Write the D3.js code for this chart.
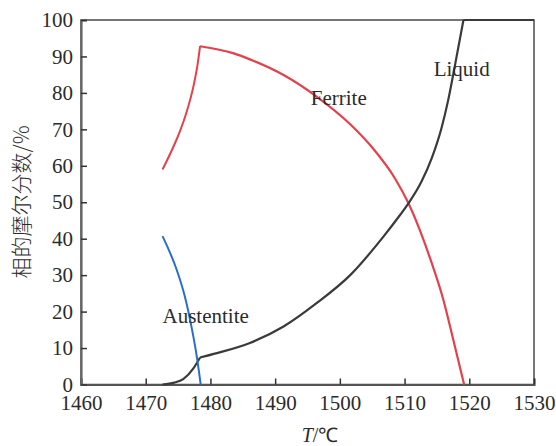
<!DOCTYPE html>
<html>
<head>
<meta charset="utf-8">
<script src="https://cdn.jsdelivr.net/npm/d3@7"></script>
<style>
  html, body { margin: 0; padding: 0; background: #fff; }
  svg text { fill: #2b2b2b; }
</style>
</head>
<body>
<svg id="chart" width="556" height="446"></svg>
<script>
// Phase fractions (mol %) versus temperature (°C)
const ferriteRise = [[1472.6,59.0],[1474.3,65.3],[1475.3,69.5],[1476.3,74.6],[1477.4,82.0],[1478.0,87.6],[1478.4,92.8]];
const ferriteFall = [[1478.4,92.8],[1483.5,90.9],[1486.1,89.2],[1491.3,84.9],[1496.4,79.0],[1501.6,71.4],[1505.2,64.6],[1508.5,56.6],[1510.6,49.7],[1512.9,39.8],[1514.0,34.3],[1516.0,23.2],[1517.5,12.5],[1519.2,0]];
const liquidLow = [[1472.6,0],[1474.4,0.5],[1475.8,1.5],[1477.4,4.5],[1478.4,7.4]];
const liquidHigh = [[1478.4,7.4],[1481.0,8.6],[1486.1,11.4],[1491.3,15.9],[1496.4,22.3],[1501.6,30.0],[1506.7,40.5],[1509.3,46.5],[1510.6,49.7],[1512.6,55.6],[1514.2,62.1],[1515.7,70.3],[1516.8,78.5],[1517.8,87.7],[1519.1,100]];
const liquidTop = [[1519.1,100],[1530,100]];
const austenite = [[1472.6,40.7],[1474.8,31.4],[1476.0,24.5],[1477.0,16.5],[1477.9,7.6],[1478.5,0]];

const xTicks = [1460,1470,1480,1490,1500,1510,1520,1530];
const yTicks = [0,10,20,30,40,50,60,70,80,90,100];

const phaseLabels = [
  {text: "Ferrite", T: 1495.5, v: 76.8},
  {text: "Liquid", T: 1514.5, v: 84.6},
  {text: "Austentite", T: 1472.6, v: 16.8}
];

const serif = "'Liberation Serif', 'Times New Roman', serif";
const margin = {left: 81, right: 22, top: 20, bottom: 61.5};
const W = 556, H = 446;
const svg = d3.select("#chart");

const x = d3.scaleLinear().domain([1460, 1530]).range([margin.left, W - margin.right]);
const y = d3.scaleLinear().domain([0, 100]).range([H - margin.bottom, margin.top]);

const colors = {ferrite: "#e5404b", liquid: "#3a3a3a", austenite: "#2a6fc4"};

// frame
svg.append("rect")
  .attr("x", x(1460)).attr("y", y(100))
  .attr("width", x(1530) - x(1460)).attr("height", y(0) - y(100))
  .attr("fill", "none").attr("stroke", "#4a4a4a").attr("stroke-width", 1.5);

// bottom axis with inward ticks
const xAxis = svg.append("g")
  .attr("transform", `translate(0,${y(0)})`)
  .call(d3.axisBottom(x).tickValues(xTicks).tickFormat(d3.format("d")).tickSize(-6).tickPadding(11))
  .attr("font-family", serif).attr("font-size", 21);
xAxis.select(".domain").attr("stroke", "#555").attr("stroke-width", 2);
xAxis.selectAll(".tick line").attr("stroke", "#333").attr("stroke-width", 1.5);
xAxis.selectAll(".tick text").attr("fill", "#2b2b2b");

// left axis with inward ticks
const yAxis = svg.append("g")
  .attr("transform", `translate(${x(1460)},0)`)
  .call(d3.axisLeft(y).tickValues(yTicks).tickFormat(d3.format("d")).tickSize(-6).tickPadding(8))
  .attr("font-family", serif).attr("font-size", 21);
yAxis.select(".domain").attr("stroke", "#666").attr("stroke-width", 2.2);
yAxis.selectAll(".tick line").attr("stroke", "#333").attr("stroke-width", 1.5);
yAxis.selectAll(".tick text").attr("fill", "#2b2b2b");

// phase curves: each branch is monotone in temperature
const line = d3.line()
  .x(d => x(d[0]))
  .y(d => y(d[1]))
  .curve(d3.curveMonotoneX);

const curves = [
  {data: ferriteRise, color: colors.ferrite, w: 2},
  {data: ferriteFall, color: colors.ferrite, w: 2.2},
  {data: liquidLow, color: colors.liquid, w: 2.2},
  {data: liquidHigh, color: colors.liquid, w: 2.2},
  {data: liquidTop, color: colors.liquid, w: 2.2},
  {data: austenite, color: colors.austenite, w: 2}
];
svg.append("g")
  .selectAll("path")
  .data(curves)
  .join("path")
  .attr("d", d => line(d.data))
  .attr("fill", "none")
  .attr("stroke", d => d.color)
  .attr("stroke-width", d => d.w)
  .attr("stroke-linejoin", "round");

// phase labels
svg.append("g")
  .attr("font-family", serif)
  .selectAll("text")
  .data(phaseLabels)
  .join("text")
  .attr("x", d => x(d.T))
  .attr("y", d => y(d.v))
  .attr("font-size", 21)
  .text(d => d.text);

// axis titles
const xTitle = svg.append("text")
  .attr("x", 320).attr("y", 442)
  .attr("text-anchor", "middle")
  .attr("font-family", serif)
  .attr("font-size", 20);
xTitle.append("tspan").attr("font-style", "italic").text("T");
xTitle.append("tspan").text("/℃");

svg.append("text")
  .attr("transform", "translate(29,202) rotate(-90)")
  .attr("text-anchor", "middle")
  .attr("font-size", 21)
  .attr("font-family", "'Noto Sans CJK SC', 'Liberation Serif', serif")
  .attr("font-weight", 300)
  .text("相的摩尔分数/%");
</script>
</body>
</html>
